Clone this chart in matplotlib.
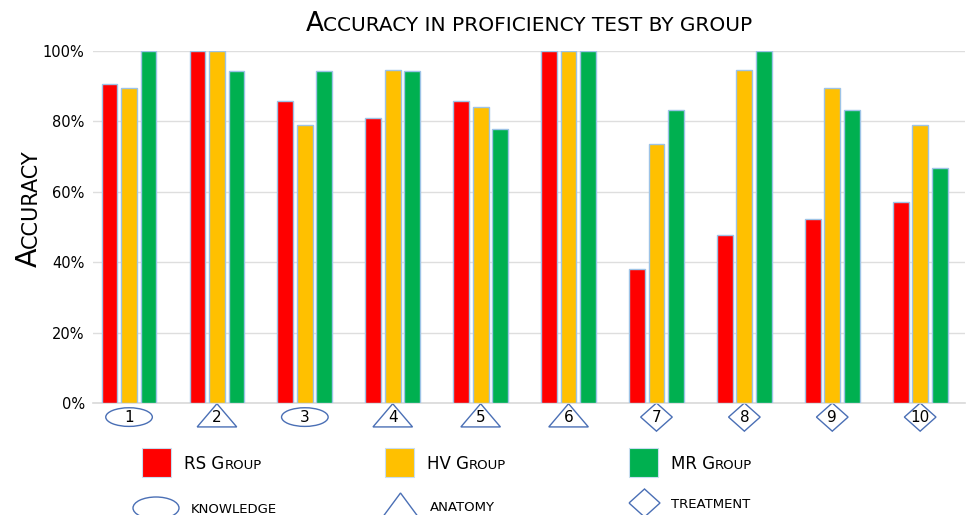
import numpy as np
import matplotlib
matplotlib.use('agg')
import matplotlib.pyplot as plt
from matplotlib.patches import Ellipse, Polygon, Rectangle
from matplotlib.transforms import Affine2D, blended_transform_factory

# accuracy (%) per question, one list per group
questions = ['1', '2', '3', '4', '5', '6', '7', '8', '9', '10']
rs_group = [90.5, 100, 85.7, 81.0, 85.7, 100, 38.1, 47.6, 52.4, 57.1]
hv_group = [89.5, 100, 78.9, 94.7, 84.2, 100, 73.7, 94.7, 89.5, 78.9]
mr_group = [100, 94.4, 94.4, 94.4, 77.8, 100, 83.3, 100, 83.3, 66.7]
question_type = ['knowledge', 'anatomy', 'knowledge', 'anatomy', 'anatomy',
                 'anatomy', 'treatment', 'treatment', 'treatment', 'treatment']
yticks = [0, 20, 40, 60, 80, 100]

RED, YEL, GRN = '#FF0000', '#FFC000', '#00B050'
EDGE = '#9DC3E6'
SHAPE = '#4A6FB5'
NARROW = ['Liberation Sans Narrow', 'DejaVu Sans']

W, H = 967, 515
fig = plt.figure(figsize=(W / 100, H / 100), dpi=100)
fig.set_facecolor('white')
ax = fig.add_axes([93 / W, 1 - 403 / H, (965 - 93) / W, 352 / H])

x = np.arange(1, len(questions) + 1)
bw, step = 0.18, 0.222
for k, (vals, col) in enumerate([(rs_group, RED), (hv_group, YEL), (mr_group, GRN)]):
    ax.bar(x + (k - 1) * step, vals, width=bw, color=col, edgecolor=EDGE, linewidth=1, zorder=3)

ax.set_xlim(0.59, 10.51)
ax.set_ylim(0, 100)
ax.set_yticks(yticks)
ax.set_yticklabels([f'{v}%' for v in yticks], fontsize=10.5)
ax.set_xticks([])
ax.yaxis.grid(True, color='#DEDEDE', linewidth=1, zorder=0)
ax.tick_params(axis='y', length=0, pad=6)
for s in ['top', 'left', 'right']:
    ax.spines[s].set_visible(False)
ax.spines['bottom'].set_color('#D9D9D9')
ax.spines['bottom'].set_linewidth(1.2)

# question markers below the axis
tr = blended_transform_factory(ax.transData, ax.transAxes)
def shape(kind, cx, cy, trans):
    if kind == 'knowledge':
        return Ellipse((cx, cy), 0.53, 0.053, transform=trans, fill=False,
                       edgecolor=SHAPE, lw=1, clip_on=False)
    if kind == 'anatomy':
        return Polygon([(cx - 0.225, cy - 0.028), (cx + 0.225, cy - 0.028), (cx, cy + 0.038)],
                       transform=trans, fill=False, edgecolor=SHAPE, lw=1, clip_on=False)
    return Polygon([(cx - 0.18, cy), (cx, cy + 0.04), (cx + 0.18, cy), (cx, cy - 0.04)],
                   transform=trans, fill=False, edgecolor=SHAPE, lw=1, clip_on=False)

for xi, q, kind in zip(x, questions, question_type):
    ax.add_patch(shape(kind, xi, -0.04, tr))
    ax.text(xi, -0.04, q, transform=tr, ha='center', va='center', fontsize=11, clip_on=False)

# pixel transform (origin top-left) for title / legend
pix = Affine2D().scale(1 / W, -1 / H).translate(0, 1) + fig.transFigure
rend = fig.canvas.get_renderer()

def small_caps(px, py, parts, rot=0, ha='center'):
    texts, widths = [], []
    for s, size in parts:
        t = fig.text(0, 0, s, fontsize=size, family=NARROW, transform=pix,
                     rotation=rot, rotation_mode='anchor', ha='left', va='baseline')
        bb = t.get_window_extent(rend)
        widths.append(bb.height if rot == 90 else bb.width)
        texts.append(t)
    pos = -sum(widths) / 2 if ha == 'center' else 0
    for t, w in zip(texts, widths):
        t.set_position((px, py - pos) if rot == 90 else (px + pos, py))
        pos += w

small_caps(529, 31, [('A', 19), ('CCURACY IN PROFICIENCY TEST BY GROUP', 14.5)])
small_caps(37, 208, [('A', 20.5), ('CCURACY', 15)], rot=90)

# legend
for (lx, name, col) in [(142, 'RS G', RED), (385, 'HV G', YEL), (629, 'MR G', GRN)]:
    fig.patches.append(Rectangle((lx, 448), 29, 29, transform=pix, facecolor=col,
                                 edgecolor='#C8DDF0', lw=0.8))
    small_caps(lx + 42, 469, [(name, 12), ('ROUP', 9.5)], ha='left')

fig.patches.append(Ellipse((156, 508), 46, 22, transform=pix, fill=False, edgecolor=SHAPE, lw=1))
fig.patches.append(Polygon([(382, 518), (419, 518), (400.5, 493)], transform=pix, fill=False,
                           edgecolor=SHAPE, lw=1))
fig.patches.append(Polygon([(629, 503), (644.5, 489), (660, 503), (644.5, 517)], transform=pix,
                           fill=False, edgecolor=SHAPE, lw=1))
for lx, ly, lab in [(191, 513, 'KNOWLEDGE'), (430, 511, 'ANATOMY'), (671, 508, 'TREATMENT')]:
    fig.text(lx, ly, lab, transform=pix, fontsize=9.5, family=NARROW, ha='left', va='baseline')

fig.savefig('out.png', dpi=100)
